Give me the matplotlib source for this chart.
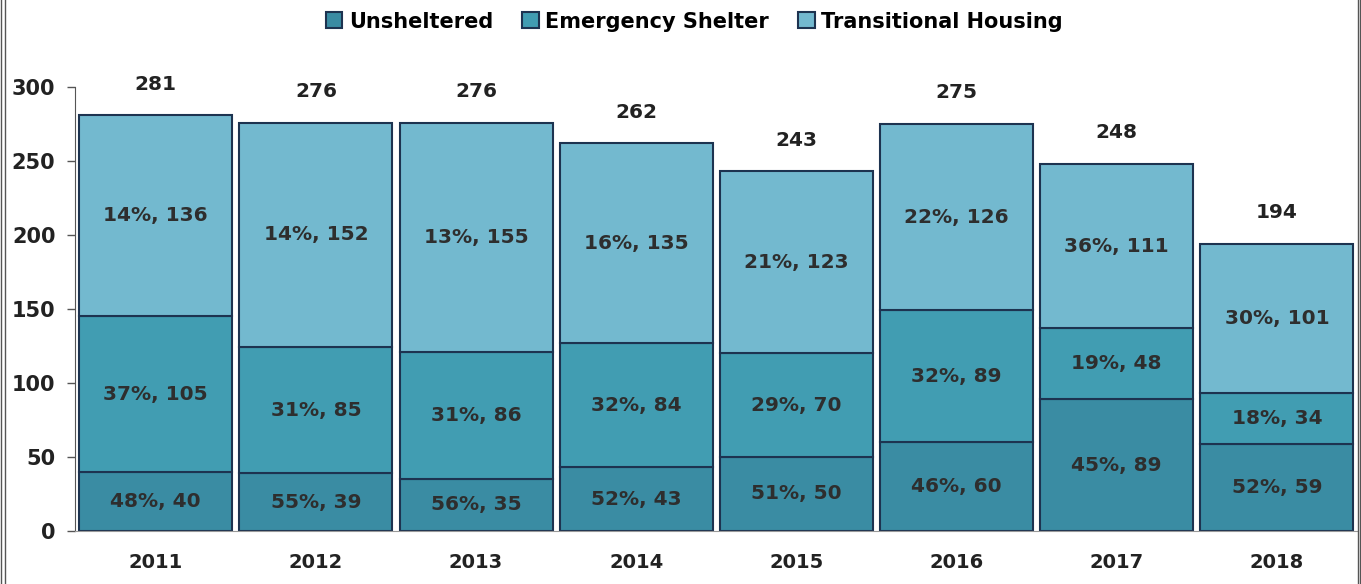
import numpy as np
import matplotlib.pyplot as plt
from matplotlib.lines import Line2D

years = ['2011', '2012', '2013', '2014', '2015', '2016', '2017', '2018']
unsheltered = [40, 39, 35, 43, 50, 60, 89, 59]
emergency = [105, 85, 86, 84, 70, 89, 48, 34]
transitional = [136, 152, 155, 135, 123, 126, 111, 101]
totals = [281, 276, 276, 262, 243, 275, 248, 194]

unsheltered_pct = ['48%', '55%', '56%', '52%', '51%', '46%', '45%', '52%']
emergency_pct = ['37%', '31%', '31%', '32%', '29%', '32%', '19%', '18%']
transitional_pct = ['14%', '14%', '13%', '16%', '21%', '22%', '36%', '30%']

series_names = ['Unsheltered', 'Emergency Shelter', 'Transitional Housing']
colors = ['#3a8ca3', '#419db2', '#73b9cf']
edge = '#1d3350'

plt.rcParams['font.family'] = ['DejaVu Sans']
plt.rcParams['font.weight'] = 'bold'

fig = plt.figure(figsize=(13.61, 5.84), dpi=100)
ax = fig.add_axes([0.055, 0.091, 0.942, 0.760])

x = np.arange(len(years))
w = 0.955
bottoms = np.zeros(len(years))
layers = [(unsheltered, unsheltered_pct), (emergency, emergency_pct),
          (transitional, transitional_pct)]
for (vals, pcts), c, name in zip(layers, colors, series_names):
    ax.bar(x, vals, w, bottom=bottoms, color=c, edgecolor=edge,
           linewidth=1.5, label=name)
    for xi, b, v, p in zip(x, bottoms, vals, pcts):
        ax.text(xi, b + v / 2, f'{p}, {v}', ha='center', va='center',
                fontsize=14.5, fontweight='bold', color='#2e2e2e')
    bottoms = bottoms + np.array(vals)

for xi, t in zip(x, totals):
    ax.text(xi, t + 21, str(t), ha='center', va='center', fontsize=14.5,
            fontweight='bold', color='#222222', clip_on=False)

ax.set_xlim(-0.505, 7.5)
ax.set_ylim(0, 300)
ax.set_yticks([0, 50, 100, 150, 200, 250, 300])
ax.set_xticks(x)
ax.set_xticklabels(years)
ax.tick_params(axis='y', length=6, width=1, color='#555555', labelsize=15, pad=8)
ax.tick_params(axis='x', length=0, labelsize=14, pad=16)
for t in ax.get_xticklabels() + ax.get_yticklabels():
    t.set_fontweight('bold')
    t.set_color('#222222')

for s in ['top', 'right']:
    ax.spines[s].set_visible(False)
ax.spines['left'].set_color('#555555')
ax.spines['bottom'].set_color('#999999')

handles = [plt.Rectangle((0, 0), 1, 1, facecolor=c, edgecolor=edge, linewidth=1.5)
           for c in colors]
fig.legend(handles, series_names, loc='center', bbox_to_anchor=(0.51, 0.963),
           ncol=3, frameon=False, handlelength=0.8,
           handleheight=0.8, handletextpad=0.3, columnspacing=1.4,
           prop={'weight': 'bold', 'size': 15})

# page frame lines of the scanned document
for xf in [0.001, 0.004, 0.9975, 0.9995]:
    fig.add_artist(Line2D([xf, xf], [0, 1], transform=fig.transFigure,
                          color='#555555', linewidth=1))

fig.savefig('out.png', dpi=100)
